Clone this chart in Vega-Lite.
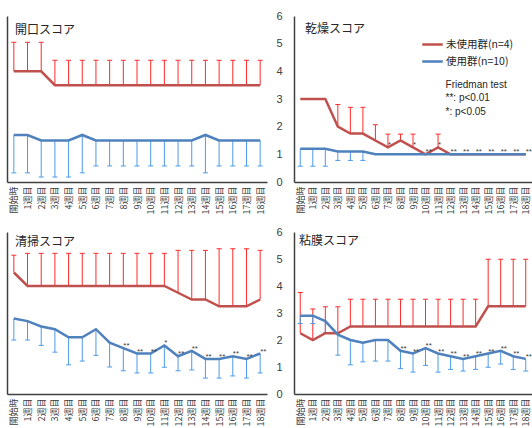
{
"$schema":"https://vega.github.io/schema/vega-lite/v6.json",
"padding":{"left":7,"top":10,"right":0,"bottom":0},
"background":"white",
"config":{"view":{"stroke":null},"font":"Noto Sans CJK JP","axis":{"domainColor":"#404040","domainWidth":1.5,"ticks":false,"grid":false}},
"datasets":{
"k":[
{"w":"開始時","g":"未使用群(n=4)","m":4,"e":5.05},{"w":"1週目","g":"未使用群(n=4)","m":4,"e":5.05},{"w":"2週目","g":"未使用群(n=4)","m":4,"e":5.05},{"w":"3週目","g":"未使用群(n=4)","m":3.5,"e":4.4},{"w":"4週目","g":"未使用群(n=4)","m":3.5,"e":4.4},{"w":"5週目","g":"未使用群(n=4)","m":3.5,"e":4.4},{"w":"6週目","g":"未使用群(n=4)","m":3.5,"e":4.4},{"w":"7週目","g":"未使用群(n=4)","m":3.5,"e":4.4},{"w":"8週目","g":"未使用群(n=4)","m":3.5,"e":4.4},{"w":"9週目","g":"未使用群(n=4)","m":3.5,"e":4.4},{"w":"10週目","g":"未使用群(n=4)","m":3.5,"e":4.4},{"w":"11週目","g":"未使用群(n=4)","m":3.5,"e":4.4},{"w":"12週目","g":"未使用群(n=4)","m":3.5,"e":4.4},{"w":"13週目","g":"未使用群(n=4)","m":3.5,"e":4.4},{"w":"14週目","g":"未使用群(n=4)","m":3.5,"e":4.4},{"w":"15週目","g":"未使用群(n=4)","m":3.5,"e":4.4},{"w":"16週目","g":"未使用群(n=4)","m":3.5,"e":4.4},{"w":"17週目","g":"未使用群(n=4)","m":3.5,"e":4.4},{"w":"18週目","g":"未使用群(n=4)","m":3.5,"e":4.4},
{"w":"開始時","g":"使用群(n=10)","m":1.7,"e":0.33},{"w":"1週目","g":"使用群(n=10)","m":1.7,"e":0.33},{"w":"2週目","g":"使用群(n=10)","m":1.5,"e":0.18},{"w":"3週目","g":"使用群(n=10)","m":1.5,"e":0.18},{"w":"4週目","g":"使用群(n=10)","m":1.5,"e":0.18},{"w":"5週目","g":"使用群(n=10)","m":1.7,"e":0.33},{"w":"6週目","g":"使用群(n=10)","m":1.5,"e":0.58},{"w":"7週目","g":"使用群(n=10)","m":1.5,"e":0.58},{"w":"8週目","g":"使用群(n=10)","m":1.5,"e":0.58},{"w":"9週目","g":"使用群(n=10)","m":1.5,"e":0.58},{"w":"10週目","g":"使用群(n=10)","m":1.5,"e":0.58},{"w":"11週目","g":"使用群(n=10)","m":1.5,"e":0.58},{"w":"12週目","g":"使用群(n=10)","m":1.5,"e":0.58},{"w":"13週目","g":"使用群(n=10)","m":1.5,"e":0.58},{"w":"14週目","g":"使用群(n=10)","m":1.7,"e":0.33},{"w":"15週目","g":"使用群(n=10)","m":1.5,"e":0.58},{"w":"16週目","g":"使用群(n=10)","m":1.5,"e":0.58},{"w":"17週目","g":"使用群(n=10)","m":1.5,"e":0.58},{"w":"18週目","g":"使用群(n=10)","m":1.5,"e":0.58}
],
"d":[
{"w":"開始時","g":"未使用群(n=4)","m":3},{"w":"1週目","g":"未使用群(n=4)","m":3},{"w":"2週目","g":"未使用群(n=4)","m":3},{"w":"3週目","g":"未使用群(n=4)","m":2,"e":2.8},{"w":"4週目","g":"未使用群(n=4)","m":1.75,"e":2.7},{"w":"5週目","g":"未使用群(n=4)","m":1.75,"e":2.7},{"w":"6週目","g":"未使用群(n=4)","m":1.5,"e":2.07},{"w":"7週目","g":"未使用群(n=4)","m":1.25,"e":1.73,"s":"*"},{"w":"8週目","g":"未使用群(n=4)","m":1.5,"e":1.73},{"w":"9週目","g":"未使用群(n=4)","m":1.25,"e":1.73,"s":"*"},{"w":"10週目","g":"未使用群(n=4)","m":1,"s":"**"},{"w":"11週目","g":"未使用群(n=4)","m":1.25,"e":1.73,"s":"*"},{"w":"12週目","g":"未使用群(n=4)","m":1,"s":"**"},{"w":"13週目","g":"未使用群(n=4)","m":1,"s":"**"},{"w":"14週目","g":"未使用群(n=4)","m":1,"s":"**"},{"w":"15週目","g":"未使用群(n=4)","m":1,"s":"**"},{"w":"16週目","g":"未使用群(n=4)","m":1,"s":"**"},{"w":"17週目","g":"未使用群(n=4)","m":1,"s":"**"},{"w":"18週目","g":"未使用群(n=4)","m":1,"s":"**"},
{"w":"開始時","g":"使用群(n=10)","m":1.2,"e":0.57},{"w":"1週目","g":"使用群(n=10)","m":1.2,"e":0.57},{"w":"2週目","g":"使用群(n=10)","m":1.2,"e":0.57},{"w":"3週目","g":"使用群(n=10)","m":1.1,"e":0.78},{"w":"4週目","g":"使用群(n=10)","m":1.1,"e":0.78},{"w":"5週目","g":"使用群(n=10)","m":1.1,"e":0.78},{"w":"6週目","g":"使用群(n=10)","m":1},{"w":"7週目","g":"使用群(n=10)","m":1},{"w":"8週目","g":"使用群(n=10)","m":1},{"w":"9週目","g":"使用群(n=10)","m":1},{"w":"10週目","g":"使用群(n=10)","m":1},{"w":"11週目","g":"使用群(n=10)","m":1},{"w":"12週目","g":"使用群(n=10)","m":1},{"w":"13週目","g":"使用群(n=10)","m":1},{"w":"14週目","g":"使用群(n=10)","m":1},{"w":"15週目","g":"使用群(n=10)","m":1},{"w":"16週目","g":"使用群(n=10)","m":1},{"w":"17週目","g":"使用群(n=10)","m":1},{"w":"18週目","g":"使用群(n=10)","m":1}
],
"c":[
{"w":"開始時","g":"未使用群(n=4)","m":4.5,"e":5.14},{"w":"1週目","g":"未使用群(n=4)","m":4,"e":5.21},{"w":"2週目","g":"未使用群(n=4)","m":4,"e":5.21},{"w":"3週目","g":"未使用群(n=4)","m":4,"e":5.21},{"w":"4週目","g":"未使用群(n=4)","m":4,"e":5.21},{"w":"5週目","g":"未使用群(n=4)","m":4,"e":5.21},{"w":"6週目","g":"未使用群(n=4)","m":4,"e":5.21},{"w":"7週目","g":"未使用群(n=4)","m":4,"e":5.21},{"w":"8週目","g":"未使用群(n=4)","m":4,"e":5.21},{"w":"9週目","g":"未使用群(n=4)","m":4,"e":5.21},{"w":"10週目","g":"未使用群(n=4)","m":4,"e":5.21},{"w":"11週目","g":"未使用群(n=4)","m":4,"e":5.21},{"w":"12週目","g":"未使用群(n=4)","m":3.75,"e":5.32},{"w":"13週目","g":"未使用群(n=4)","m":3.5,"e":5.32},{"w":"14週目","g":"未使用群(n=4)","m":3.5,"e":5.32},{"w":"15週目","g":"未使用群(n=4)","m":3.25,"e":5.38},{"w":"16週目","g":"未使用群(n=4)","m":3.25,"e":5.38},{"w":"17週目","g":"未使用群(n=4)","m":3.25,"e":5.38},{"w":"18週目","g":"未使用群(n=4)","m":3.5,"e":5.32},
{"w":"開始時","g":"使用群(n=10)","m":2.8,"e":2.0},{"w":"1週目","g":"使用群(n=10)","m":2.7,"e":2.0},{"w":"2週目","g":"使用群(n=10)","m":2.5,"e":1.8},{"w":"3週目","g":"使用群(n=10)","m":2.4,"e":1.55},{"w":"4週目","g":"使用群(n=10)","m":2.1,"e":1.08},{"w":"5週目","g":"使用群(n=10)","m":2.1,"e":1.22},{"w":"6週目","g":"使用群(n=10)","m":2.4,"e":1.43},{"w":"7週目","g":"使用群(n=10)","m":1.9,"e":1.0},{"w":"8週目","g":"使用群(n=10)","m":1.7,"e":0.86,"s":"**"},{"w":"9週目","g":"使用群(n=10)","m":1.5,"e":0.78,"s":"**"},{"w":"10週目","g":"使用群(n=10)","m":1.5,"e":0.78,"s":"**"},{"w":"11週目","g":"使用群(n=10)","m":1.8,"e":0.99,"s":"*"},{"w":"12週目","g":"使用群(n=10)","m":1.4,"e":0.86,"s":"**"},{"w":"13週目","g":"使用群(n=10)","m":1.6,"e":0.89,"s":"**"},{"w":"14週目","g":"使用群(n=10)","m":1.3,"e":0.59,"s":"**"},{"w":"15週目","g":"使用群(n=10)","m":1.3,"e":0.59,"s":"**"},{"w":"16週目","g":"使用群(n=10)","m":1.4,"e":0.67,"s":"**"},{"w":"17週目","g":"使用群(n=10)","m":1.3,"e":0.59,"s":"**"},{"w":"18週目","g":"使用群(n=10)","m":1.5,"e":0.78,"s":"**"}
],
"n":[
{"w":"開始時","g":"未使用群(n=4)","m":2.25,"e":3.76},{"w":"1週目","g":"未使用群(n=4)","m":2,"e":3.15},{"w":"2週目","g":"未使用群(n=4)","m":2.25,"e":3.23},{"w":"3週目","g":"未使用群(n=4)","m":2.25,"e":3.23},{"w":"4週目","g":"未使用群(n=4)","m":2.5,"e":3.51},{"w":"5週目","g":"未使用群(n=4)","m":2.5,"e":3.51},{"w":"6週目","g":"未使用群(n=4)","m":2.5,"e":3.51},{"w":"7週目","g":"未使用群(n=4)","m":2.5,"e":3.51},{"w":"8週目","g":"未使用群(n=4)","m":2.5,"e":3.51},{"w":"9週目","g":"未使用群(n=4)","m":2.5,"e":3.51},{"w":"10週目","g":"未使用群(n=4)","m":2.5,"e":3.51},{"w":"11週目","g":"未使用群(n=4)","m":2.5,"e":3.51},{"w":"12週目","g":"未使用群(n=4)","m":2.5,"e":3.51},{"w":"13週目","g":"未使用群(n=4)","m":2.5,"e":3.51},{"w":"14週目","g":"未使用群(n=4)","m":2.5,"e":3.51},{"w":"15週目","g":"未使用群(n=4)","m":3.25,"e":4.99},{"w":"16週目","g":"未使用群(n=4)","m":3.25,"e":4.99},{"w":"17週目","g":"未使用群(n=4)","m":3.25,"e":4.99},{"w":"18週目","g":"未使用群(n=4)","m":3.25,"e":4.99},
{"w":"開始時","g":"使用群(n=10)","m":2.9,"e":2.61},{"w":"1週目","g":"使用群(n=10)","m":2.9,"e":2.61},{"w":"2週目","g":"使用群(n=10)","m":2.7,"e":2.27},{"w":"3週目","g":"使用群(n=10)","m":2.2,"e":1.44},{"w":"4週目","g":"使用群(n=10)","m":2.0,"e":1.08},{"w":"5週目","g":"使用群(n=10)","m":1.9,"e":1.19},{"w":"6週目","g":"使用群(n=10)","m":2.0,"e":1.22},{"w":"7週目","g":"使用群(n=10)","m":2.0,"e":1.22},{"w":"8週目","g":"使用群(n=10)","m":1.6,"e":0.94,"s":"**"},{"w":"9週目","g":"使用群(n=10)","m":1.5,"e":0.81,"s":"**"},{"w":"10週目","g":"使用群(n=10)","m":1.7,"e":1.06,"s":"**"},{"w":"11週目","g":"使用群(n=10)","m":1.5,"e":0.81,"s":"**"},{"w":"12週目","g":"使用群(n=10)","m":1.4,"e":0.91,"s":"**"},{"w":"13週目","g":"使用群(n=10)","m":1.3,"e":0.85,"s":"**"},{"w":"14週目","g":"使用群(n=10)","m":1.4,"e":0.91,"s":"**"},{"w":"15週目","g":"使用群(n=10)","m":1.5,"e":0.99,"s":"**"},{"w":"16週目","g":"使用群(n=10)","m":1.6,"e":1.11,"s":"**"},{"w":"17週目","g":"使用群(n=10)","m":1.4,"e":0.91,"s":"**"},{"w":"18週目","g":"使用群(n=10)","m":1.3,"e":0.85,"s":"**"}
]
},
"columns":2,
"spacing":{"row":50,"column":27},
"bounds":"flush",
"resolve":{"scale":{"color":"independent"},"legend":{"color":"independent"}},
"concat":[
{"width":260,"height":166,"data":{"name":"k"},
 "title":{"text":"開口スコア","anchor":"start","frame":"group","orient":"top","baseline":"middle","offset":-26,"dx":8,"fontSize":12,"fontWeight":"normal","font":"Noto Sans CJK JP","color":"#262626"},
 "layer":[
  {"transform":[{"filter":"isValid(datum.e)"}],"mark":{"type":"rule","strokeWidth":1},
   "encoding":{"x":{"field":"w","type":"ordinal","title":null,"scale":{"type":"point","padding":0.5,"domain":["開始時","1週目","2週目","3週目","4週目","5週目","6週目","7週目","8週目","9週目","10週目","11週目","12週目","13週目","14週目","15週目","16週目","17週目","18週目"]},"axis":{"labelAngle":270,"labelFontSize":9,"labelPadding":4,"labelOverlap":false,"labelFont":"Noto Sans CJK JP","labelColor":"#404040"}},
    "y":{"field":"m","type":"quantitative","title":null,"scale":{"domain":[0,6],"nice":false},"axis":{"labels":false,"values":[0,1,2,3,4,5,6]}},
    "y2":{"field":"e"},
    "color":{"condition":{"test":"datum.g === '未使用群(n=4)'","value":"#FF2A2A"},"value":"#4C9BE8"}}},
  {"transform":[{"filter":"isValid(datum.e)"}],"mark":{"type":"tick","size":5,"thickness":1,"opacity":1},
   "encoding":{"x":{"field":"w","type":"ordinal","title":null},"y":{"field":"e","type":"quantitative","title":null,"axis":{"labels":false,"values":[0,1,2,3,4,5,6]}},
    "color":{"condition":{"test":"datum.g === '未使用群(n=4)'","value":"#FF2A2A"},"value":"#4C9BE8"}}},
  {"mark":{"type":"line","strokeWidth":2.5},
   "encoding":{"x":{"field":"w","type":"ordinal","title":null},"y":{"field":"m","type":"quantitative","title":null,"axis":{"labels":false,"values":[0,1,2,3,4,5,6]}},
    "color":{"field":"g","type":"nominal","scale":{"domain":["未使用群(n=4)","使用群(n=10)"],"range":["#C0504D","#4F81BD"]},"legend":null}}}
 ]},
{"width":238,"height":166,"data":{"name":"d"},
 "title":{"text":"乾燥スコア","anchor":"start","frame":"group","orient":"top","baseline":"middle","offset":-31,"dx":11,"fontSize":12,"fontWeight":"normal","font":"Noto Sans CJK JP","color":"#262626"},
 "layer":[
  {"transform":[{"filter":"isValid(datum.e)"}],"mark":{"type":"rule","strokeWidth":1},
   "encoding":{"x":{"field":"w","type":"ordinal","title":null,"scale":{"type":"point","padding":0.5,"domain":["開始時","1週目","2週目","3週目","4週目","5週目","6週目","7週目","8週目","9週目","10週目","11週目","12週目","13週目","14週目","15週目","16週目","17週目","18週目"]},"axis":{"labelAngle":270,"labelFontSize":9,"labelPadding":4,"labelOverlap":false,"labelFont":"Noto Sans CJK JP","labelColor":"#404040"}},
    "y":{"field":"m","type":"quantitative","title":null,"scale":{"domain":[0,6],"nice":false},"axis":{"values":[0,1,2,3,4,5,6],"labelOverlap":false,"labelFont":"Liberation Sans","labelFontSize":11,"labelPadding":12,"labelColor":"#404040"}},
    "y2":{"field":"e"},
    "color":{"condition":{"test":"datum.g === '未使用群(n=4)'","value":"#FF2A2A"},"value":"#4C9BE8"}}},
  {"transform":[{"filter":"isValid(datum.e)"}],"mark":{"type":"tick","size":5,"thickness":1,"opacity":1},
   "encoding":{"x":{"field":"w","type":"ordinal","title":null},"y":{"field":"e","type":"quantitative","title":null,"axis":{"values":[0,1,2,3,4,5,6],"labelOverlap":false,"labelFont":"Liberation Sans","labelFontSize":11,"labelPadding":12,"labelColor":"#404040"}},
    "color":{"condition":{"test":"datum.g === '未使用群(n=4)'","value":"#FF2A2A"},"value":"#4C9BE8"}}},
  {"mark":{"type":"line","strokeWidth":2.5},
   "encoding":{"x":{"field":"w","type":"ordinal","title":null},"y":{"field":"m","type":"quantitative","title":null,"axis":{"values":[0,1,2,3,4,5,6],"labelOverlap":false,"labelFont":"Liberation Sans","labelFontSize":11,"labelPadding":12,"labelColor":"#404040"}},
    "color":{"field":"g","type":"nominal","scale":{"domain":["未使用群(n=4)","使用群(n=10)"],"range":["#C0504D","#4F81BD"]},
     "legend":{"orient":"none","legendX":127,"legendY":17,"title":null,"padding":0,"symbolType":"stroke","symbolSize":420,"symbolStrokeWidth":2.5,"labelFontSize":10.5,"labelFont":"Noto Sans CJK JP","labelColor":"#262626","labelOffset":2,"rowPadding":-1}}}},
  {"transform":[{"filter":"datum.s"}],"mark":{"type":"text","align":"left","baseline":"alphabetic","fontSize":8,"font":"Liberation Sans","color":"#404040"},
   "encoding":{"x":{"field":"w","type":"ordinal","title":null},"y":{"field":"m","type":"quantitative","title":null,"axis":{"values":[0,1,2,3,4,5,6],"labelOverlap":false,"labelFont":"Liberation Sans","labelFontSize":11,"labelPadding":12,"labelColor":"#404040"}},"text":{"field":"s"}}},
  {"data":{"values":[{}]},"mark":{"type":"text","align":"left","baseline":"top","fontSize":10,"lineHeight":13.5,"font":"Liberation Sans","color":"#262626","dx":-5,"text":["Friedman test","**: p<0.01","\u00a0\u00a0*: p<0.05"]},
   "encoding":{"x":{"datum":"12週目","type":"ordinal","title":null},"y":{"datum":3.7,"type":"quantitative","title":null,"axis":{"values":[0,1,2,3,4,5,6],"labelOverlap":false,"labelFont":"Liberation Sans","labelFontSize":11,"labelPadding":12,"labelColor":"#404040"}}}}
 ]},
{"width":260,"height":162,"data":{"name":"c"},
 "title":{"text":"清掃スコア","anchor":"start","frame":"group","orient":"top","baseline":"middle","offset":-22,"dx":8,"fontSize":12,"fontWeight":"normal","font":"Noto Sans CJK JP","color":"#262626"},
 "layer":[
  {"transform":[{"filter":"isValid(datum.e)"}],"mark":{"type":"rule","strokeWidth":1},
   "encoding":{"x":{"field":"w","type":"ordinal","title":null,"scale":{"type":"point","padding":0.5,"domain":["開始時","1週目","2週目","3週目","4週目","5週目","6週目","7週目","8週目","9週目","10週目","11週目","12週目","13週目","14週目","15週目","16週目","17週目","18週目"]},"axis":{"labelAngle":270,"labelFontSize":9,"labelPadding":4,"labelOverlap":false,"labelFont":"Noto Sans CJK JP","labelColor":"#404040"}},
    "y":{"field":"m","type":"quantitative","title":null,"scale":{"domain":[0,6],"nice":false},"axis":{"labels":false,"values":[0,1,2,3,4,5,6]}},
    "y2":{"field":"e"},
    "color":{"condition":{"test":"datum.g === '未使用群(n=4)'","value":"#FF2A2A"},"value":"#4C9BE8"}}},
  {"transform":[{"filter":"isValid(datum.e)"}],"mark":{"type":"tick","size":5,"thickness":1,"opacity":1},
   "encoding":{"x":{"field":"w","type":"ordinal","title":null},"y":{"field":"e","type":"quantitative","title":null,"axis":{"labels":false,"values":[0,1,2,3,4,5,6]}},
    "color":{"condition":{"test":"datum.g === '未使用群(n=4)'","value":"#FF2A2A"},"value":"#4C9BE8"}}},
  {"mark":{"type":"line","strokeWidth":2.5},
   "encoding":{"x":{"field":"w","type":"ordinal","title":null},"y":{"field":"m","type":"quantitative","title":null,"axis":{"labels":false,"values":[0,1,2,3,4,5,6]}},
    "color":{"field":"g","type":"nominal","scale":{"domain":["未使用群(n=4)","使用群(n=10)"],"range":["#C0504D","#4F81BD"]},"legend":null}}},
  {"transform":[{"filter":"datum.s"}],"mark":{"type":"text","align":"left","baseline":"alphabetic","fontSize":8,"font":"Liberation Sans","color":"#404040"},
   "encoding":{"x":{"field":"w","type":"ordinal","title":null},"y":{"field":"m","type":"quantitative","title":null,"axis":{"labels":false,"values":[0,1,2,3,4,5,6]}},"text":{"field":"s"}}}
 ]},
{"width":238,"height":162,"data":{"name":"n"},
 "title":{"text":"粘膜スコア","anchor":"start","frame":"group","orient":"top","baseline":"middle","offset":-27,"dx":5,"fontSize":12,"fontWeight":"normal","font":"Noto Sans CJK JP","color":"#262626"},
 "layer":[
  {"transform":[{"filter":"isValid(datum.e)"}],"mark":{"type":"rule","strokeWidth":1},
   "encoding":{"x":{"field":"w","type":"ordinal","title":null,"scale":{"type":"point","padding":0.5,"domain":["開始時","1週目","2週目","3週目","4週目","5週目","6週目","7週目","8週目","9週目","10週目","11週目","12週目","13週目","14週目","15週目","16週目","17週目","18週目"]},"axis":{"labelAngle":270,"labelFontSize":9,"labelPadding":4,"labelOverlap":false,"labelFont":"Noto Sans CJK JP","labelColor":"#404040"}},
    "y":{"field":"m","type":"quantitative","title":null,"scale":{"domain":[0,6],"nice":false},"axis":{"values":[0,1,2,3,4,5,6],"labelOverlap":false,"labelFont":"Liberation Sans","labelFontSize":11,"labelPadding":12,"labelColor":"#404040"}},
    "y2":{"field":"e"},
    "color":{"condition":{"test":"datum.g === '未使用群(n=4)'","value":"#FF2A2A"},"value":"#4C9BE8"}}},
  {"transform":[{"filter":"isValid(datum.e)"}],"mark":{"type":"tick","size":5,"thickness":1,"opacity":1},
   "encoding":{"x":{"field":"w","type":"ordinal","title":null},"y":{"field":"e","type":"quantitative","title":null,"axis":{"values":[0,1,2,3,4,5,6],"labelOverlap":false,"labelFont":"Liberation Sans","labelFontSize":11,"labelPadding":12,"labelColor":"#404040"}},
    "color":{"condition":{"test":"datum.g === '未使用群(n=4)'","value":"#FF2A2A"},"value":"#4C9BE8"}}},
  {"mark":{"type":"line","strokeWidth":2.5},
   "encoding":{"x":{"field":"w","type":"ordinal","title":null},"y":{"field":"m","type":"quantitative","title":null,"axis":{"values":[0,1,2,3,4,5,6],"labelOverlap":false,"labelFont":"Liberation Sans","labelFontSize":11,"labelPadding":12,"labelColor":"#404040"}},
    "color":{"field":"g","type":"nominal","scale":{"domain":["未使用群(n=4)","使用群(n=10)"],"range":["#C0504D","#4F81BD"]},"legend":null}}},
  {"transform":[{"filter":"datum.s"}],"mark":{"type":"text","align":"left","baseline":"alphabetic","fontSize":8,"font":"Liberation Sans","color":"#404040"},
   "encoding":{"x":{"field":"w","type":"ordinal","title":null},"y":{"field":"m","type":"quantitative","title":null,"axis":{"values":[0,1,2,3,4,5,6],"labelOverlap":false,"labelFont":"Liberation Sans","labelFontSize":11,"labelPadding":12,"labelColor":"#404040"}},"text":{"field":"s"}}}
 ]}
]
}
